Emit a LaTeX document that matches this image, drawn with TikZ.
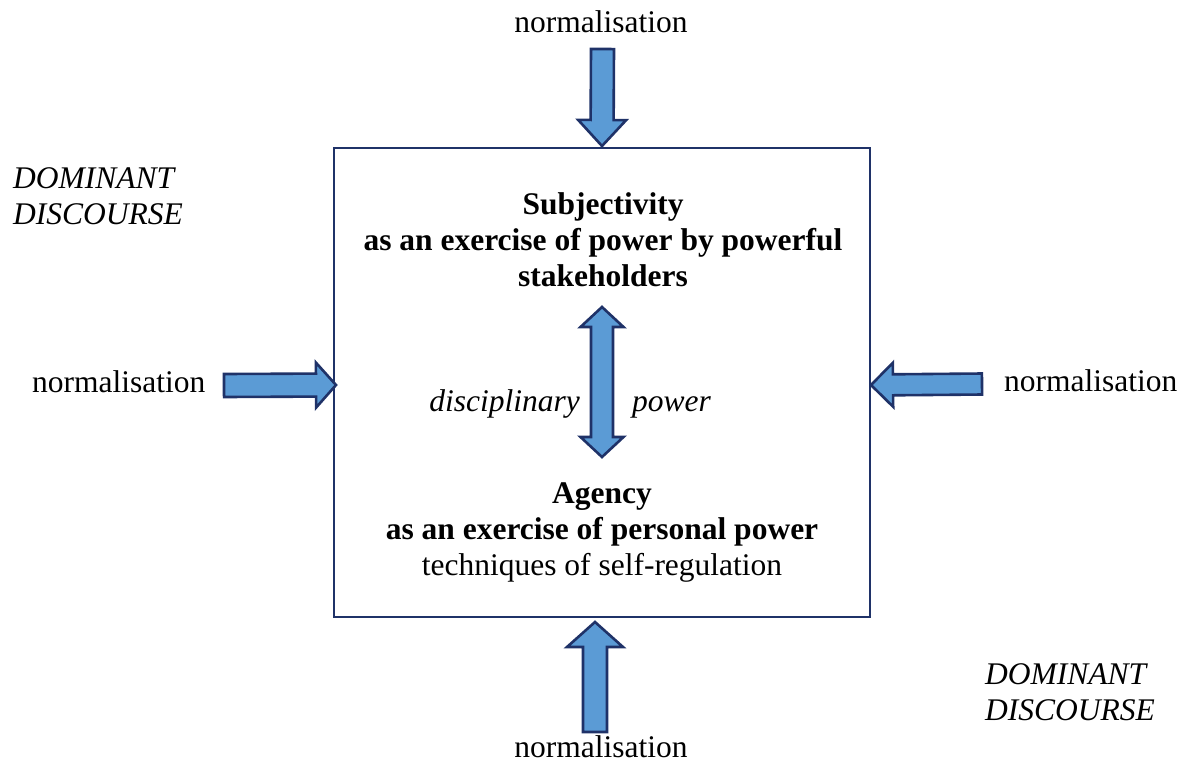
\documentclass[tikz,border=0pt]{standalone}
\usepackage{fontspec}
\setmainfont{Liberation Serif}
\usetikzlibrary{calc}

\definecolor{arrowfill}{HTML}{5B9BD5}
\definecolor{navy}{HTML}{1F3268}

\tikzset{
  txt/.style={font=\fontsize{31.5}{36}\selectfont, inner sep=0pt, anchor=base},
  itxt/.style={txt, font=\fontsize{31.5}{36}\selectfont\itshape},
  btxt/.style={txt, font=\fontsize{31.5}{36}\selectfont\bfseries},
  frame/.style={draw=navy, line width=1.8pt, minimum width=536pt, minimum height=469pt, inner sep=0pt},
  blockarrowstyle/.style={draw=navy, fill=arrowfill, line width=2.6pt, line join=miter},
}

% block arrow: tail, tip, shaft half-width, head half-width, head length
\newcommand{\blockarrow}[5]{%
  \coordinate (ba-h) at ($(#2)!#5!(#1)$);
  \draw[blockarrowstyle]
    ($(#1)!#3!90:(#2)$) -- ($(ba-h)!#3!-90:(#1)$) -- ($(ba-h)!#4!-90:(#1)$)
    -- (#2)
    -- ($(ba-h)!#4!90:(#1)$) -- ($(ba-h)!#3!90:(#1)$) -- ($(#1)!#3!-90:(#2)$) -- cycle;
}
% double block arrow: end a, end b, shaft half-width, head half-width, head length
\newcommand{\doubleblockarrow}[5]{%
  \coordinate (da-a) at ($(#1)!#5!(#2)$);
  \coordinate (da-b) at ($(#2)!#5!(#1)$);
  \draw[blockarrowstyle]
    (#1) -- ($(da-a)!#4!90:(#2)$) -- ($(da-a)!#3!90:(#2)$)
    -- ($(da-b)!#3!-90:(#1)$) -- ($(da-b)!#4!-90:(#1)$)
    -- (#2)
    -- ($(da-b)!#4!90:(#1)$) -- ($(da-b)!#3!90:(#1)$)
    -- ($(da-a)!#3!-90:(#2)$) -- ($(da-a)!#4!-90:(#2)$) -- cycle;
}

\begin{document}
\begin{tikzpicture}[x=1pt, y=-1pt]
\useasboundingbox (0,0) rectangle (1197,764);

% central frame
\node[frame] (box) at (602,382.5) {};

% labels around the frame (multi-line nodes sit on their last baseline)
\node[txt] (ntop) at (601,32) {normalisation};
\node[txt] (nbot) at (601,757) {normalisation};
\node[txt, anchor=base west] (nleft) at (32,392) {normalisation};
\node[txt, anchor=base west] (nright) at (1004,391) {normalisation};
\node[itxt, anchor=base west, align=left] (domleft) at (13,224) {DOMINANT\\DISCOURSE};
\node[itxt, anchor=base west, align=left] (domright) at (985,720) {DOMINANT\\DISCOURSE};

% contents of the frame
\node[btxt, align=center] (subj) at (603,286) {Subjectivity\\as an exercise of power by powerful\\stakeholders};
\node[txt, align=center] (agency) at (602,575) {\textbf{Agency}\\\textbf{as an exercise of personal power}\\techniques of self-regulation};
\node[itxt, anchor=base east] (disc) at (580,411) {disciplinary};
\node[itxt, anchor=base west] (pow) at (632,411) {power};

% arrow end points
\coordinate (t-tail) at (602.5,49);   \coordinate (t-tip) at (602,146);
\coordinate (b-tail) at (595,732);    \coordinate (b-tip) at (595,622);
\coordinate (l-tail) at (224,385.5);  \coordinate (l-tip) at (336,385);
\coordinate (r-tail) at (982,384);    \coordinate (r-tip) at (871,385);
\coordinate (m-top) at (602,307);     \coordinate (m-bot) at (602,457);

% normalisation arrows
\blockarrow{t-tail}{t-tip}{11.5pt}{24pt}{26pt}
\blockarrow{b-tail}{b-tip}{12pt}{28pt}{25pt}
\blockarrow{l-tail}{l-tip}{11.5pt}{22.5pt}{20pt}
\blockarrow{r-tail}{r-tip}{10.5pt}{22pt}{22pt}

% disciplinary power
\doubleblockarrow{m-top}{m-bot}{11pt}{21.5pt}{20pt}
\end{tikzpicture}
\end{document}
